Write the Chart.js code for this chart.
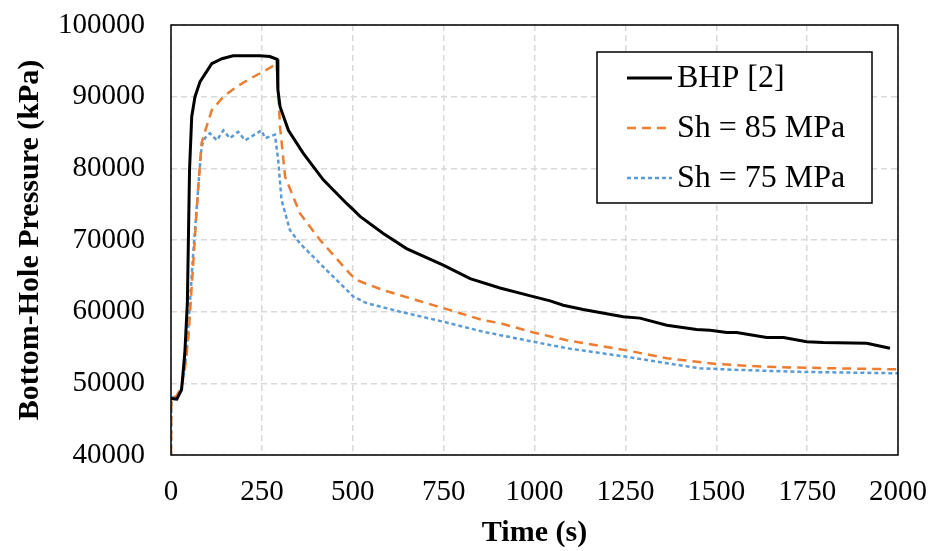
<!DOCTYPE html>
<html lang="en">
<head>
    <meta charset="UTF-8">
    <title>Bottom-Hole Pressure vs Time</title>
    <script src="https://cdn.jsdelivr.net/npm/chart.js"></script>
    <style>
        body { margin: 0; background: #fff; }
        #wrap { width: 933px; height: 551px; }
    </style>
</head>
<body>
    <div id="wrap"><canvas id="bhpChart" width="933" height="551"></canvas></div>

    <script>
        // series data
        const seriesLabels = ['BHP [2]', 'Sh = 85 MPa', 'Sh = 75 MPa'];

        const bhpTime = [0, 16, 29, 38, 45, 48, 51, 57, 66, 80, 112, 140, 171, 245, 272, 292, 294, 300, 323, 364,
            419, 483, 502, 520, 584, 648, 749, 823, 905, 997, 1043, 1079, 1134, 1244, 1290, 1364, 1446, 1483,
            1529, 1556, 1639, 1685, 1749, 1794, 1914, 1978];
        const bhpValues = [47900, 47800, 49100, 54200, 61200, 70500, 79800, 87200, 90000, 92100, 94600, 95300, 95700,
            95700, 95600, 95200, 91000, 88600, 85300, 82100, 78400, 75100, 74200, 73300, 70900, 68800, 66500,
            64600, 63300, 62100, 61500, 60900, 60300, 59300, 59100, 58100, 57500, 57400, 57100, 57100, 56400,
            56400, 55800, 55700, 55600, 54900];

        const sh85Time = [0, 1, 15, 29, 38, 48, 57, 66, 75, 84, 89, 112, 144, 181, 217, 254, 291, 300, 314, 355,
            410, 492, 511, 584, 676, 749, 859, 905, 997, 1089, 1254, 1364, 1501, 1639, 1822, 2000];
        const sh85Values = [40000, 48000, 48200, 49500, 51900, 56500, 63500, 70500, 77400, 83500, 84400, 88100,
            90000, 91400, 92500, 93500, 94600, 85800, 78800, 73700, 70000, 65300, 64400, 63000, 61600, 60500,
            58800, 58400, 57100, 56000, 54600, 53500, 52700, 52300, 52100, 51950];

        const sh75Time = [0, 1, 15, 29, 43, 61, 75, 84, 93, 107, 126, 144, 162, 185, 204, 249, 259, 286, 295, 304,
            327, 355, 428, 502, 538, 630, 749, 859, 997, 1089, 1254, 1364, 1455, 1547, 1730, 2000];
        const sh75Values = [40000, 48000, 48200, 49300, 54200, 68100, 77400, 83000, 84200, 84900, 83900, 85300,
            84200, 85100, 83900, 85300, 84200, 84700, 81100, 75600, 71400, 69500, 65800, 62100, 61200, 60000,
            58600, 57200, 55800, 54900, 53700, 52800, 52100, 51900, 51600, 51400];

        const xTicks = [0, 250, 500, 750, 1000, 1250, 1500, 1750, 2000];
        const yTicks = [40000, 50000, 60000, 70000, 80000, 90000, 100000];

        const toPoints = (ts, vs) => ts.map((t, i) => ({ x: t, y: vs[i] }));

        const serif = "'Liberation Serif', 'Times New Roman', serif";

        // legend box drawn inside the plot, plus the frame round the plot area
        const framePlugin = {
            id: 'frameAndLegend',
            afterDraw(chart) {
                const { ctx, chartArea: a } = chart;
                ctx.save();
                ctx.strokeStyle = '#000';
                ctx.lineWidth = 1.5;
                ctx.strokeRect(a.left, a.top, a.right - a.left, a.bottom - a.top);

                // legend
                const bx = 597, by = 52, bw = 275, bh = 151;
                ctx.fillStyle = '#fff';
                ctx.fillRect(bx, by, bw, bh);
                ctx.lineWidth = 1.5;
                ctx.strokeRect(bx, by, bw, bh);
                ctx.font = '32px ' + serif;
                ctx.textBaseline = 'middle';
                chart.data.datasets.forEach((ds, i) => {
                    const yy = 78 + i * 50;
                    ctx.beginPath();
                    ctx.strokeStyle = ds.borderColor;
                    ctx.lineWidth = ds.borderWidth;
                    ctx.setLineDash(ds.borderDash || []);
                    ctx.moveTo(627, yy);
                    ctx.lineTo(672, yy);
                    ctx.stroke();
                    ctx.setLineDash([]);
                    ctx.fillStyle = '#000';
                    ctx.fillText(ds.label, 677, yy + 1);
                });
                ctx.restore();
            }
        };

        new Chart(document.getElementById('bhpChart').getContext('2d'), {
            type: 'line',
            data: {
                datasets: [
                    {
                        label: seriesLabels[0],
                        data: toPoints(bhpTime, bhpValues),
                        borderColor: '#000000',
                        borderWidth: 3,
                        pointRadius: 0,
                        tension: 0
                    },
                    {
                        label: seriesLabels[1],
                        data: toPoints(sh85Time, sh85Values),
                        borderColor: '#ed7d31',
                        borderWidth: 2.5,
                        borderDash: [9, 6],
                        pointRadius: 0,
                        tension: 0
                    },
                    {
                        label: seriesLabels[2],
                        data: toPoints(sh75Time, sh75Values),
                        borderColor: '#5b9bd5',
                        borderWidth: 2.5,
                        borderDash: [4, 3],
                        pointRadius: 0,
                        tension: 0
                    }
                ]
            },
            options: {
                responsive: false,
                animation: false,
                layout: { padding: { left: 0, right: 35, top: 25, bottom: 0 } },
                plugins: {
                    legend: { display: false },
                    tooltip: { enabled: false }
                },
                scales: {
                    x: {
                        type: 'linear',
                        min: 0,
                        max: 2000,
                        afterBuildTicks: s => { s.ticks = xTicks.map(v => ({ value: v })); },
                        afterFit: s => { s.height = 96; s.paddingLeft = 0; s.paddingRight = 0; },
                        grid: { color: '#d9d9d9', lineWidth: 1.5, drawTicks: false },
                        border: { display: false, dash: [6, 4] },
                        ticks: {
                            color: '#000',
                            font: { family: serif, size: 29 },
                            padding: 20,
                            maxRotation: 0,
                            callback: v => String(v)
                        },
                        title: {
                            display: true,
                            text: 'Time (s)',
                            color: '#000',
                            font: { family: serif, size: 30, weight: 'bold' },
                            padding: { top: 0, bottom: 0 }
                        }
                    },
                    y: {
                        min: 40000,
                        max: 100000,
                        afterBuildTicks: s => { s.ticks = yTicks.map(v => ({ value: v })); },
                        afterFit: s => { s.width = 171; s.paddingTop = 0; s.paddingBottom = 0; },
                        grid: { color: '#d9d9d9', lineWidth: 1.5, drawTicks: false },
                        border: { display: false, dash: [6, 4] },
                        ticks: {
                            color: '#000',
                            font: { family: serif, size: 29 },
                            padding: 26,
                            callback: v => String(v)
                        },
                        title: {
                            display: true,
                            text: 'Bottom-Hole Pressure (kPa)',
                            color: '#000',
                            font: { family: serif, size: 30, weight: 'bold' },
                            padding: { top: 12, bottom: 0 }
                        }
                    }
                }
            },
            plugins: [framePlugin]
        });
    </script>
</body>
</html>
